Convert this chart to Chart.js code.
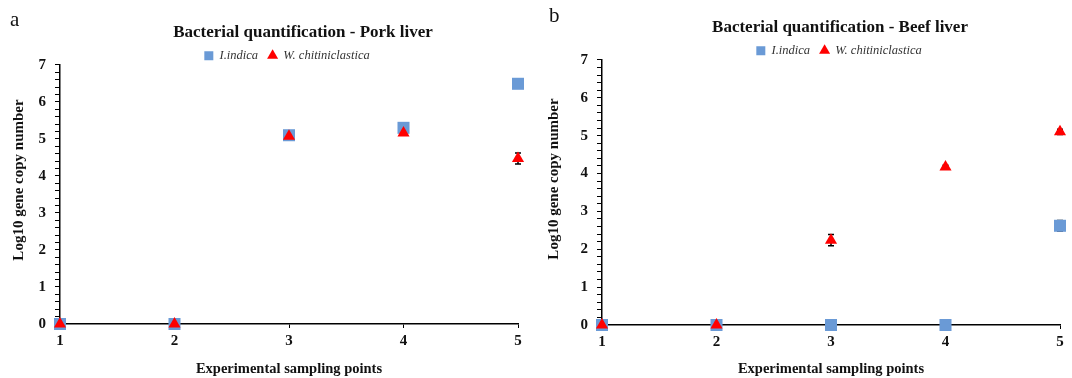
<!DOCTYPE html>
<html>
<head>
<meta charset="utf-8">
<script src="https://cdn.jsdelivr.net/npm/chart.js@4.4.1/dist/chart.umd.min.js"></script>
<style>
  body { margin: 0; background: #fff; width: 1072px; height: 378px; overflow: hidden; position: relative; }
  .panel { position: absolute; top: 0; width: 536px; height: 378px; }
  .tag { position: absolute; font-family: "Liberation Serif", serif; font-size: 21px; color: #111; }
</style>
</head>
<body>
<div class="panel" style="left:0"><canvas id="porkChart" width="536" height="378"></canvas></div>
<div class="panel" style="left:536px"><canvas id="beefChart" width="536" height="378"></canvas></div>
<div class="tag" style="left:10px;top:7px">a</div>
<div class="tag" style="left:549px;top:3px">b</div>
<script>
// sampling points
const samplingPoints = [1, 2, 3, 4, 5];

// pork liver
const porkIndica = [0, 0, 5.1, 5.3, 6.49];
const porkIndicaErr = [0, 0, 0.03, 0.05, 0.05];
const porkWchit = [0, 0, 5.07, 5.16, 4.47];
const porkWchitErr = [0, 0, 0.03, 0.05, 0.15];

// beef liver
const beefIndica = [0, 0, 0, 0, 2.62];
const beefIndicaErr = [0, 0, 0, 0, 0.14];
const beefWchit = [0, 0, 2.24, 4.17, 5.1];
const beefWchitErr = [0, 0, 0.15, 0.05, 0.07];

const yTicksMajor = [0, 1, 2, 3, 4, 5, 6, 7];
const yAxisTitle = 'Log10 gene copy number';

const serif = '"Liberation Serif", "Times New Roman", serif';

// error bars drawn under the markers
const errorBars = {
  id: 'errorBars',
  beforeDatasetsDraw(chart) {
    const ctx = chart.ctx;
    const x = chart.scales.x, y = chart.scales.y;
    ctx.save();
    ctx.strokeStyle = '#000';
    ctx.lineWidth = 1.5;
    chart.data.datasets.forEach(ds => {
      if (!ds.err) return;
      ds.data.forEach((p, i) => {
        const e = ds.err[i];
        if (!e) return;
        const px = x.getPixelForValue(p.x);
        const top = y.getPixelForValue(p.y + e);
        const bot = y.getPixelForValue(p.y - e);
        ctx.beginPath();
        ctx.moveTo(px, top); ctx.lineTo(px, bot);
        ctx.moveTo(px - 3, top); ctx.lineTo(px + 3, top);
        ctx.moveTo(px - 3, bot); ctx.lineTo(px + 3, bot);
        ctx.stroke();
      });
    });
    ctx.restore();
  }
};

// nudge title / legend after layout so the plot keeps its size
const shiftBoxes = {
  id: 'shiftBoxes',
  afterLayout(chart, args, o) {
    const t = chart.titleBlock, l = chart.legend;
    if (t) { t.top += o.ty; t.bottom += o.ty; t.left += o.tx; t.right += o.tx; }
    if (l) { l.top += o.ly; l.bottom += o.ly; l.left += o.lx; l.right += o.lx; }
  }
};

// rotated y axis title, sitting a little above the plot middle
const yTitle = {
  id: 'yTitle',
  afterDraw(chart, args, o) {
    const ctx = chart.ctx;
    ctx.save();
    ctx.translate(o.x, o.y);
    ctx.rotate(-Math.PI / 2);
    ctx.font = 'bold 15px ' + serif;
    ctx.fillStyle = '#111';
    ctx.textAlign = 'center';
    ctx.textBaseline = 'middle';
    ctx.fillText(yAxisTitle, 0, 0);
    ctx.restore();
  }
};

function pts(vals) {
  return samplingPoints.map((s, i) => ({ x: s, y: vals[i] }));
}

function makeChart(id, title, indica, indicaErr, wchit, wchitErr, cfg) {
  return new Chart(document.getElementById(id), {
    type: 'scatter',
    data: {
      datasets: [{
        label: 'I.indica',
        data: pts(indica),
        err: indicaErr,
        order: 2,
        pointStyle: 'rect',
        pointRadius: 8.5,
        pointHoverRadius: 8.5,
        backgroundColor: '#6A9AD6',
        borderColor: '#6A9AD6',
        borderWidth: 0,
        clip: false
      }, {
        label: 'W. chitiniclastica',
        data: pts(wchit),
        err: wchitErr,
        order: 1,
        pointStyle: 'triangle',
        pointRadius: 7,
        pointHoverRadius: 7,
        backgroundColor: '#FF0000',
        borderColor: '#FF0000',
        borderWidth: 0,
        clip: false
      }]
    },
    options: {
      responsive: false,
      animation: false,
      layout: { padding: { left: 0, right: cfg.right, top: 0, bottom: 0 } },
      plugins: {
        title: {
          display: true,
          text: title,
          color: '#111',
          font: { family: serif, size: 17, weight: 'bold' },
          padding: { top: cfg.titleTop, bottom: 0 }
        },
        legend: {
          labels: {
            usePointStyle: true,
            boxWidth: 9,
            boxHeight: 9,
            color: '#333',
            padding: 10,
            font: { family: serif, size: 12.5, style: 'italic' },
            sort: (a, b) => a.datasetIndex - b.datasetIndex
          }
        },
        tooltip: { enabled: false },
        shiftBoxes: cfg.shift,
        yTitle: cfg.yTitle
      },
      scales: {
        x: {
          type: 'linear',
          min: 1,
          max: 5,
          position: 'bottom',
          border: { color: '#000', width: 1.5 },
          grid: { drawOnChartArea: false, color: '#000', tickLength: 4 },
          ticks: {
            stepSize: 1,
            color: '#111',
            padding: 4,
            font: { family: serif, size: 15, weight: 'bold' }
          },
          title: {
            display: true,
            text: 'Experimental sampling points',
            color: '#111',
            padding: { top: 9, bottom: 0 },
            font: { family: serif, size: 14.5, weight: 'bold' }
          },
          afterFit(s) { s.height = cfg.xh; }
        },
        y: {
          min: 0,
          max: 7,
          border: { color: '#000', width: 1.5 },
          grid: { drawOnChartArea: false, color: '#000', tickLength: 5 },
          ticks: {
            stepSize: 0.2,
            autoSkip: false,
            color: '#111',
            padding: 9,
            font: { family: serif, size: 15, weight: 'bold' },
            callback: v => {
              const r = Math.round(v);
              return Math.abs(v - r) < 1e-6 && yTicksMajor.includes(r) ? String(r) : '';
            }
          },
          afterFit(s) { s.width = cfg.yw; }
        }
      }
    },
    plugins: [errorBars, shiftBoxes, yTitle]
  });
}

makeChart('porkChart', 'Bacterial quantification - Pork liver',
  porkIndica, porkIndicaErr, porkWchit, porkWchitErr,
  { right: 18, titleTop: 12, xh: 54, yw: 60,
    shift: { ty: 10, tx: 44, ly: 7, lx: 28 },
    yTitle: { x: 19, y: 180 } });

makeChart('beefChart', 'Bacterial quantification - Beef liver',
  beefIndica, beefIndicaErr, beefWchit, beefWchitErr,
  { right: 12, titleTop: 7, xh: 53, yw: 66,
    shift: { ty: 10, tx: 42, ly: 7, lx: 41 },
    yTitle: { x: 18, y: 179 } });
</script>
</body>
</html>
